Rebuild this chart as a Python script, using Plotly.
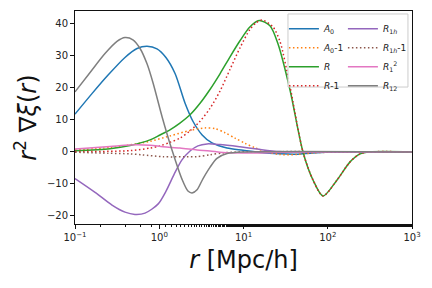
import plotly.graph_objects as go

# ---- data (r in Mpc/h, value = r^2 grad xi) ----
r_A0 = [0.1, 0.159, 0.247, 0.392, 0.545, 0.716, 0.940, 1.20, 1.54, 2.02, 2.52, 3.21, 4.23, 6.37, 9.86, 15.7, 27.1, 43.2, 66.8, 140, 1000]
v_A0 = [11.8, 18.2, 24, 29.5, 32.3, 33, 32.2, 29.5, 24.5, 15.3, 9.5, 5.4, 2.8, 1.2, 0.5, -0.2, -0.6, -0.7, -0.3, 0, 0]

r_A0m1 = [0.1, 0.26, 0.45, 0.776, 1.34, 2.32, 3.49, 4.59, 6.03, 7.93, 10.4, 13.7, 18.0, 27.1, 43.2, 66.8, 140, 1000]
v_A0m1 = [0.6, 1.4, 2.2, 3.3, 5.0, 6.7, 7.5, 7.3, 6.0, 4.3, 2.7, 1.3, 0.2, -0.8, -0.8, -0.3, 0, 0]

r_R = [0.1, 0.26, 0.45, 0.776, 1.02, 1.34, 1.76, 2.32, 3.05, 4.00, 5.26, 6.92, 9.08, 11.9, 15.3, 20.6, 25.7, 35.6, 50.8, 66.8, 87.9, 129, 184, 242, 317, 1000]
v_R = [0.4, 1.0, 2.0, 3.75, 5.3, 6.9, 9.0, 11.6, 15.2, 19.5, 24.4, 29.7, 34.7, 39, 41, 39.4, 33.7, 19.4, 0, -8.75, -13.75, -8.75, -3.1, -0.6, 0, 0]

r_Rm1 = [0.1, 0.45, 0.776, 1.02, 1.34, 1.76, 2.32, 3.05, 4.00, 5.26, 6.92, 9.08, 11.9, 14.1, 16.6, 22.4, 27.1, 35.6, 50.8, 66.8, 87.9, 129, 184, 242, 317, 1000]
v_Rm1 = [0.1, 0.4, 1.2, 1.9, 3.0, 4.3, 6.6, 9.6, 13.6, 19, 25.8, 32.5, 38.2, 40.3, 41.2, 39, 34.5, 20.5, 0, -8.75, -13.75, -8.75, -3.1, -0.6, 0, 0]

r_R1h = [0.1, 0.173, 0.275, 0.392, 0.515, 0.678, 0.966, 1.20, 1.50, 1.86, 2.32, 2.88, 3.69, 5.26, 9.08, 14.5, 27.1, 1000]
v_R1h = [-8.3, -12.6, -16.6, -18.8, -19.5, -19.1, -16.3, -12.3, -7, -2.5, 0.3, 1.9, 2.5, 2.3, 1.6, 0.9, 0.1, 0]

r_R1hm1 = [0.1, 0.247, 0.45, 0.624, 1.108, 2.32, 2.81, 4.00, 5.71, 9.08, 1000]
v_R1hm1 = [-0.1, -0.4, -0.6, -0.9, -1.5, -1.5, -1.5, -0.9, -0.3, 0, 0]

r_R1sq = [0.1, 0.26, 0.45, 0.776, 1.108, 1.76, 2.81, 4.00, 5.71, 14.5, 40, 1000]
v_R1sq = [0.9, 1.7, 2.2, 2.1, 1.6, 1.2, 0.6, 0.3, -0.2, -0.3, 0, 0]

r_R12 = [0.1, 0.151, 0.227, 0.315, 0.392, 0.487, 0.592, 0.716, 0.843, 1.08, 1.42, 1.86, 2.19, 2.45, 2.81, 3.31, 4.00, 4.84, 6.37, 10.4, 1000]
v_R12 = [18.75, 24.8, 30.7, 34.5, 35.7, 35, 32.3, 27.5, 21.6, 11, 0.5, -8.5, -12.2, -12.8, -11.8, -8.3, -4.8, -2, -0.5, 0, 0]

x_tickvals = [0.1, 1, 10, 100, 1000]
x_ticktext = ["10<sup>−1</sup>", "10<sup>0</sup>", "10<sup>1</sup>", "10<sup>2</sup>", "10<sup>3</sup>"]
y_tickvals = [-20, -10, 0, 10, 20, 30, 40]

DOT = "1.5px,2.5px"
series = [
    # name, r, v, color, dash, legend
    ("<i>A</i><sub>0</sub>", r_A0, v_A0, "#1f77b4", "solid", "legend"),
    ("<i>A</i><sub>0</sub>-1", r_A0m1, v_A0m1, "#ff7f0e", DOT, "legend"),
    ("<i>R</i>", r_R, v_R, "#2ca02c", "solid", "legend"),
    ("<i>R</i>-1", r_Rm1, v_Rm1, "#d62728", DOT, "legend"),
    ("<i>R</i><sub>1<i>h</i></sub>", r_R1h, v_R1h, "#9467bd", "solid", "legend2"),
    ("<i>R</i><sub>1<i>h</i></sub>-1", r_R1hm1, v_R1hm1, "#8c564b", DOT, "legend2"),
    ("<i>R</i><sub>1</sub><sup>2</sup>", r_R1sq, v_R1sq, "#e377c2", "solid", "legend2"),
    ("<i>R</i><sub>12</sub>", r_R12, v_R12, "#7f7f7f", "solid", "legend2"),
]

fig = go.Figure()
for name, r, v, c, dash, lg in series:
    fig.add_trace(go.Scatter(
        x=r, y=v, mode="lines", name=name, legend=lg,
        line=dict(color=c, width=1.5, dash=dash, shape="spline", smoothing=0.8),
    ))

axis_common = dict(showline=True, linecolor="#111", linewidth=1, mirror=True,
                   ticks="outside", ticklen=4, tickcolor="#111", showgrid=False,
                   zeroline=False, automargin=False, tickfont=dict(size=10, color="#222"))

fig.update_xaxes(type="log", range=[-1, 3], tickvals=x_tickvals, ticktext=x_ticktext,
                 minor=dict(ticks="outside", ticklen=2, tickcolor="#111", showgrid=False),
                 title=dict(text="<i>r</i> [Mpc/h]", font=dict(size=24, color="#111"), standoff=9),
                 **axis_common)
fig.update_yaxes(range=[-22.5, 44], tickvals=y_tickvals,
                 title=dict(text="<i>r</i><sup>2</sup> ∇<i>ξ</i>(<i>r</i>)", font=dict(size=24, color="#111"), standoff=3),
                 **axis_common)

legend_common = dict(bgcolor="rgba(0,0,0,0)", borderwidth=0, font=dict(size=9, color="#222"),
                     itemwidth=30, yanchor="top", xanchor="left", tracegroupgap=0)

fig.update_layout(
    width=432, height=288,
    margin=dict(l=75, r=20, t=11, b=64),
    paper_bgcolor="white", plot_bgcolor="white",
    font=dict(family="DejaVu Sans", color="#222"),
    legend=dict(x=0.62, y=0.985, **legend_common),
    legend2=dict(x=0.795, y=0.985, **legend_common),
    shapes=[dict(type="rect", xref="paper", yref="paper", x0=0.632, x1=0.988, y0=0.643, y1=0.986,
                 line=dict(color="#cccccc", width=1), fillcolor="rgba(255,255,255,0.8)", layer="above")],
)

fig.write_html("out.html", config={"displayModeBar": False},
               post_script="document.body.style.margin='0';")
